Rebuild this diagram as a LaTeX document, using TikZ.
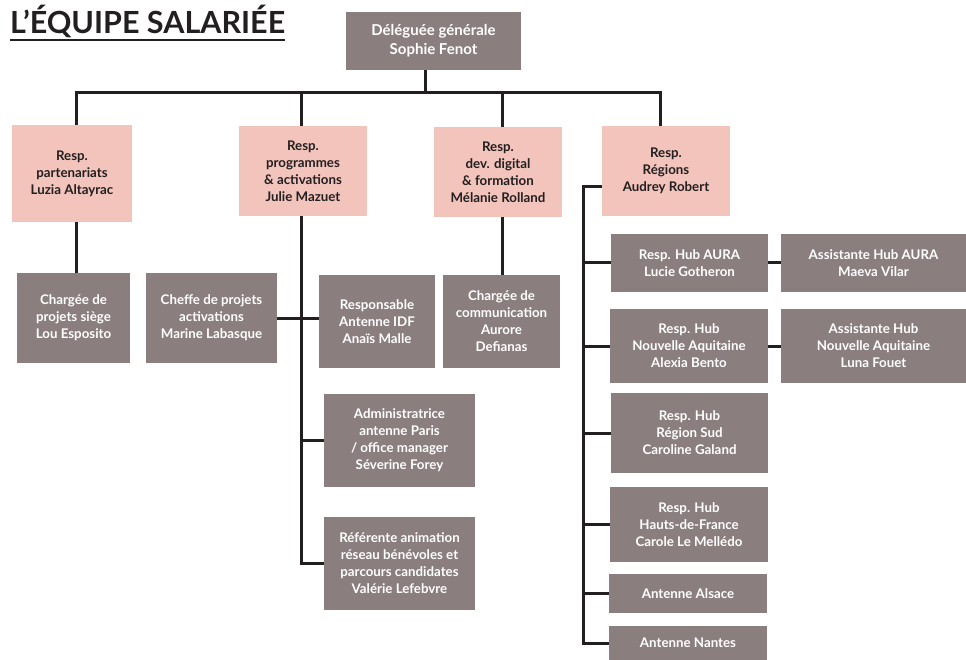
\documentclass[tikz,border=0pt]{standalone}
\usepackage{fontspec}
\setmainfont{Lato}
\definecolor{boxgray}{HTML}{8A7E7F}
\definecolor{boxpink}{HTML}{F2C4BC}
\definecolor{ink}{HTML}{231F20}
\begin{document}
\begin{tikzpicture}[x=1pt,y=-1pt,
    gbox/.style={fill=boxgray,text=white,inner sep=0pt,align=center,
      font=\bfseries\fontsize{13.3}{17}\selectfont},
    pbox/.style={gbox,fill=boxpink,text=ink},
    link/.style={draw=ink,line width=3pt}]
    \useasboundingbox (0,0) rectangle (966,660);

    \node[anchor=base west,inner sep=0pt,text=ink,font=\bfseries\fontsize{30.5}{34}\selectfont] (title) at (10,34) {L’ÉQUIPE SALARIÉE};
    \draw[link,line width=2.5pt] ([yshift=-6pt]title.base west) -- ([yshift=-6pt]title.base east);

    \node[gbox,minimum width=175,minimum height=58,font=\bfseries\fontsize{15}{19}\selectfont] (dg) at (433.5,41) {Déléguée générale\\Sophie Fenot};

    \node[pbox,minimum width=120,minimum height=97] (partn) at (72,173.5) {Resp.\\partenariats\\Luzia Altayrac};
    \node[pbox,minimum width=128,minimum height=90] (progr) at (303,171) {Resp.\\programmes\\\& activations\\Julie Mazuet};
    \node[pbox,minimum width=128,minimum height=90] (devdig) at (498,172) {Resp.\\dev. digital\\\& formation\\Mélanie Rolland};
    \node[pbox,minimum width=128,minimum height=90] (regions) at (666,171) {Resp.\\Régions\\Audrey Robert};

    \node[gbox,minimum width=113,minimum height=90] (siege) at (73.5,318) {Chargée de\\projets siège\\Lou Esposito};
    \node[gbox,minimum width=131,minimum height=90] (cheffe) at (211.5,318) {Cheffe de projets\\activations\\Marine Labasque};
    \node[gbox,minimum width=116,minimum height=93] (idf) at (377,321.5) {Responsable\\Antenne IDF\\Anaïs Malle};
    \node[gbox,minimum width=117,minimum height=93] (comm) at (501.5,321.5) {Chargée de\\communication\\Aurore\\Defianas};
    \node[gbox,minimum width=151,minimum height=93] (admin) at (399.5,440.5) {Administratrice\\antenne Paris\\/ office manager\\Séverine Forey};
    \node[gbox,minimum width=151,minimum height=93] (refer) at (399.5,563.5) {Référente animation\\réseau bénévoles et\\parcours candidates\\Valérie Lefebvre};

    \node[gbox,minimum width=157,minimum height=58] (aura) at (689.5,263) {Resp. Hub AURA\\Lucie Gotheron};
    \node[gbox,minimum width=185,minimum height=58] (asaura) at (873.5,263) {Assistante Hub AURA\\Maeva Vilar};
    \node[gbox,minimum width=158,minimum height=74] (naq) at (689,346) {Resp. Hub\\Nouvelle Aquitaine\\Alexia Bento};
    \node[gbox,minimum width=185,minimum height=74] (asnaq) at (873.5,346) {Assistante Hub\\Nouvelle Aquitaine\\Luna Fouet};
    \node[gbox,minimum width=157,minimum height=80] (sud) at (689.5,433) {Resp. Hub\\Région Sud\\Caroline Galand};
    \node[gbox,minimum width=158,minimum height=75] (hdf) at (689,524.5) {Resp. Hub\\Hauts-de-France\\Carole Le Mellédo};
    \node[gbox,minimum width=158,minimum height=39] (alsace) at (688,593.5) {Antenne Alsace};
    \node[gbox,minimum width=158,minimum height=34] (nantes) at (688,643) {Antenne Nantes};

    % main bar
    \coordinate (t0) at (425,93);
    \coordinate (t1) at (76,93);
    \coordinate (t2) at (301,93);
    \coordinate (t3) at (502,93);
    \coordinate (t4) at (660,93);
    \coordinate (rbus) at (583.6,187);

    \draw[link] (t0 |- dg.south) -- (t0);
    \draw[link] (t1 |- partn.north) -- (t1) -- (t4) -- (t4 |- regions.north);
    \draw[link] (t2) -- (t2 |- progr.north);
    \draw[link] (t3) -- (t3 |- devdig.north);

    \draw[link] (t1 |- partn.south) -- (t1 |- siege.north);
    \draw[link] (t2 |- progr.south) |- (refer.west);
    \draw[link] (admin.west) -- (admin.west -| t2);
    \draw[link] (cheffe.east) -- (cheffe.east -| idf.west);
    \draw[link] (t3 |- devdig.south) -- (t3 |- comm.north);

    % regions
    \draw[link] (rbus -| regions.west) -- (rbus) |- (nantes.west);
    \draw[link] (aura.west) -- (aura.west -| rbus);
    \draw[link] (naq.west) -- (naq.west -| rbus);
    \draw[link] (sud.west) -- (sud.west -| rbus);
    \draw[link] (hdf.west) -- (hdf.west -| rbus);
    \draw[link] (alsace.west) -- (alsace.west -| rbus);
    \draw[link] (aura.east) -- (asaura.west);
    \draw[link] (naq.east) -- (asnaq.west);
  \end{tikzpicture}
\end{document}
